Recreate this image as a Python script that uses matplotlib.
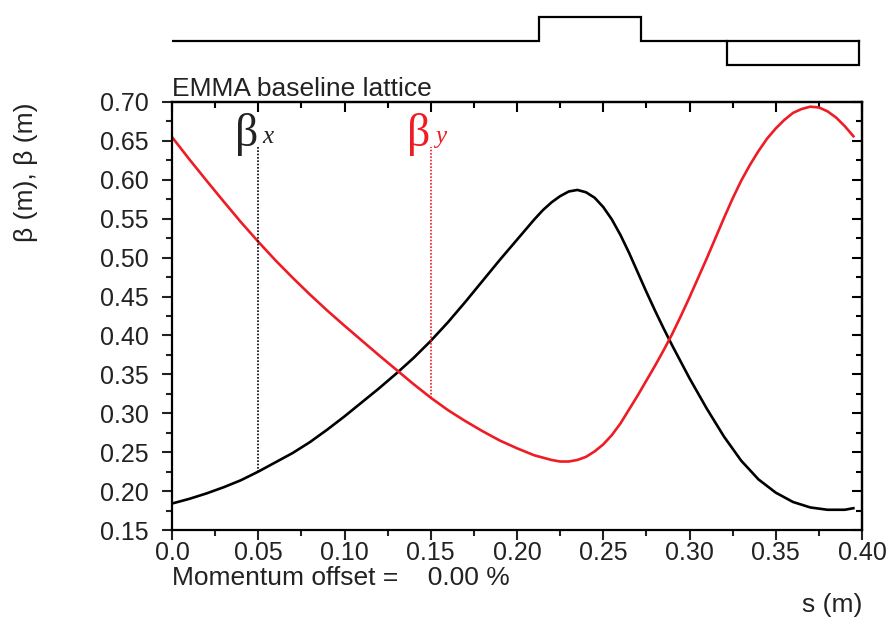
import matplotlib
matplotlib.use("Agg")
import matplotlib.pyplot as plt
from matplotlib.ticker import MultipleLocator, FormatStrFormatter

plt.rcParams["font.family"] = ["Liberation Sans", "DejaVu Sans"]

# beta functions
s_x = [0.000, 0.010, 0.020, 0.030, 0.040, 0.050, 0.060, 0.070, 0.080, 0.090,
       0.100, 0.110, 0.120, 0.130, 0.140, 0.150, 0.160, 0.170, 0.180, 0.190,
       0.200, 0.205, 0.210, 0.215, 0.220, 0.225, 0.230, 0.235, 0.240, 0.245,
       0.250, 0.255, 0.260, 0.265, 0.270, 0.275, 0.280, 0.285, 0.290, 0.295,
       0.300, 0.310, 0.320, 0.330, 0.340, 0.350, 0.360, 0.370, 0.380, 0.390,
       0.395]
beta_x = [0.184, 0.190, 0.197, 0.205, 0.214, 0.225, 0.237, 0.249, 0.263, 0.279,
          0.296, 0.314, 0.332, 0.351, 0.371, 0.393, 0.417, 0.443, 0.470, 0.497,
          0.523, 0.536, 0.549, 0.561, 0.571, 0.579, 0.585, 0.587, 0.584, 0.577,
          0.565, 0.549, 0.529, 0.506, 0.481, 0.456, 0.432, 0.409, 0.387, 0.366,
          0.345, 0.306, 0.270, 0.239, 0.215, 0.198, 0.186, 0.179, 0.176, 0.176,
          0.178]

s_y = [0.000, 0.010, 0.020, 0.030, 0.040, 0.050, 0.060, 0.070, 0.080, 0.090,
       0.100, 0.110, 0.120, 0.130, 0.140, 0.150, 0.160, 0.170, 0.180, 0.190,
       0.200, 0.210, 0.220, 0.225, 0.230, 0.235, 0.240, 0.245, 0.250, 0.255,
       0.260, 0.265, 0.270, 0.275, 0.280, 0.285, 0.290, 0.295, 0.300, 0.305,
       0.310, 0.315, 0.320, 0.325, 0.330, 0.335, 0.340, 0.345, 0.350, 0.355,
       0.360, 0.365, 0.370, 0.375, 0.380, 0.385, 0.390, 0.395]
beta_y = [0.655, 0.6265, 0.599, 0.572, 0.5455, 0.5205, 0.4965, 0.474, 0.4525, 0.432,
          0.4125, 0.3935, 0.3745, 0.356, 0.3375, 0.320, 0.304, 0.290, 0.277, 0.265,
          0.255, 0.246, 0.240, 0.238, 0.238, 0.240, 0.244, 0.251, 0.260, 0.272,
          0.287, 0.305, 0.323, 0.342, 0.361, 0.381, 0.402, 0.425, 0.449, 0.474,
          0.499, 0.525, 0.551, 0.576, 0.599, 0.619, 0.637, 0.653, 0.666, 0.677,
          0.686, 0.691, 0.694, 0.693, 0.688, 0.680, 0.669, 0.656]

# marker positions for the beta labels
mark_s = [0.05, 0.15]
mark_lo = [0.225, 0.320]
mark_hi = 0.642

# lattice elements: (start, end, +1 up / -1 down)
elem_start = [0.213, 0.322]
elem_end = [0.272, 0.398]
elem_sign = [1, -1]

RED = "#ee1c25"
FS = 18

fig = plt.figure(figsize=(8.9, 6.17), dpi=100)
ax = fig.add_axes([172 / 890, 1 - 530 / 617, 690 / 890, 428 / 617])

ax.plot(s_x, beta_x, color="black", lw=1.9)
ax.plot(s_y, beta_y, color=RED, lw=1.9)

ax.vlines(mark_s[0], mark_lo[0], mark_hi, color="black", lw=1.2, linestyles=(0, (1, 1)))
ax.vlines(mark_s[1], mark_lo[1], mark_hi, color=RED, lw=1.2, linestyles=(0, (1, 1)))

ax.text(0.0365, 0.644, "β", fontsize=33, family="Liberation Serif", color="#222222")
ax.text(0.0525, 0.647, "x", fontsize=18, family="Liberation Serif", style="italic",
        color="#222222")
ax.text(0.1365, 0.644, "β", fontsize=33, family="Liberation Serif", color=RED)
ax.text(0.1525, 0.647, "y", fontsize=18, family="Liberation Serif", style="italic",
        color=RED)

ax.set_xlim(0, 0.40)
ax.set_ylim(0.15, 0.70)
ax.xaxis.set_minor_locator(MultipleLocator(0.025))
ax.yaxis.set_major_locator(MultipleLocator(0.05))
ax.yaxis.set_minor_locator(MultipleLocator(0.025))
ax.yaxis.set_major_formatter(FormatStrFormatter("%.2f"))
ax.set_xticks([0, 0.05, 0.10, 0.15, 0.20, 0.25, 0.30, 0.35, 0.40])
ax.set_xticklabels(["0.0", "0.05", "0.10", "0.15", "0.20", "0.25", "0.30", "0.35", "0.40"])

for sp in ax.spines.values():
    sp.set_linewidth(1.6)

ax.tick_params(which="both", direction="out", width=1.5, labelsize=FS, color="#222222",
               labelcolor="#222222")
ax.tick_params(which="major", length=7)
ax.tick_params(which="minor", length=4)
ax.tick_params(axis="x", pad=1)
ax.tick_params(axis="y", pad=10)

# mirrored ticks pointing inwards on top and right
top = ax.secondary_xaxis("top")
top.xaxis.set_major_locator(MultipleLocator(0.05))
top.xaxis.set_minor_locator(MultipleLocator(0.025))
top.tick_params(which="both", direction="in", width=1.5, labeltop=False)
top.tick_params(which="major", length=7)
top.tick_params(which="minor", length=4)
top.spines["top"].set_linewidth(1.6)

right = ax.secondary_yaxis("right")
right.yaxis.set_major_locator(MultipleLocator(0.05))
right.yaxis.set_minor_locator(MultipleLocator(0.025))
right.tick_params(which="both", direction="in", width=1.5, labelright=False)
right.tick_params(which="major", length=7)
right.tick_params(which="minor", length=4)
right.spines["right"].set_linewidth(1.6)

# lattice sketch above the plot
lat = fig.add_axes([172 / 890, 1 - 70 / 617, 690 / 890, 58 / 617])
lat.set_xlim(0, 0.40)
lat.set_ylim(-1.2, 1.2)
lat.axis("off")
xs = [0.0]
ys = [0.0]
for a, b, sg in zip(elem_start, elem_end, elem_sign):
    xs += [a, a, b, b]
    ys += [0, sg, sg, 0]
lat.plot(xs, ys, color="black", lw=1.6, solid_joinstyle="miter")
lat.plot([elem_start[1], elem_end[1]], [0, 0], color="black", lw=1.6)

fig.text(172 / 890, 1 - 96 / 617, "EMMA baseline lattice", fontsize=19,
         va="baseline", ha="left", color="#222222")
fig.text(172 / 890, 1 - 578 / 617, "Momentum offset =    0.00 %", fontsize=19,
         va="center", ha="left", color="#222222")
fig.text(862 / 890, 1 - 605 / 617, "s (m)", fontsize=19, va="center", ha="right",
         color="#222222")
fig.text(26 / 890, 1 - 172 / 617, "β (m), β (m)", fontsize=19, rotation=90,
         va="center", ha="center", color="#222222")

fig.savefig("out.png", dpi=100)
